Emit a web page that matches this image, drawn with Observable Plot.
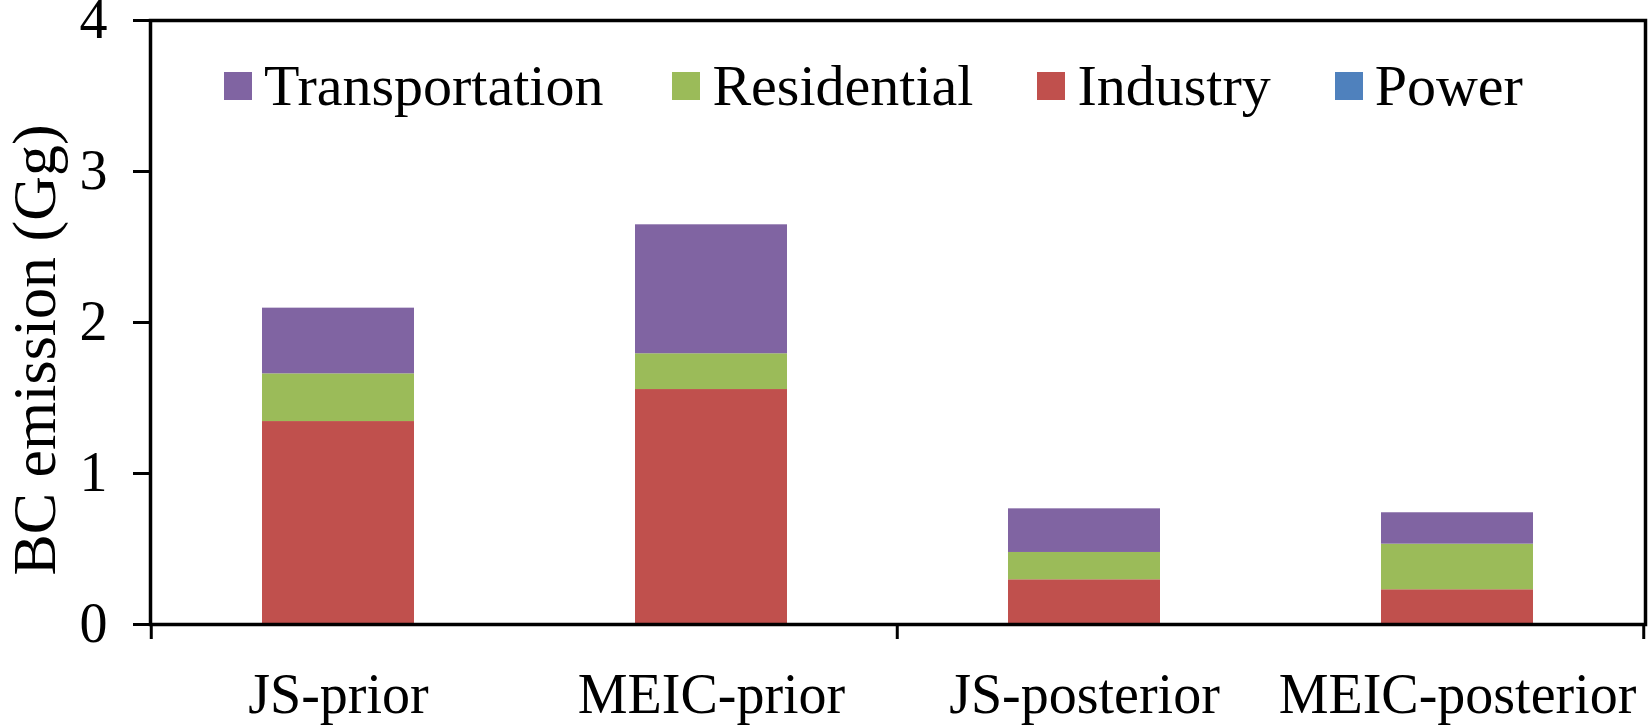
<!DOCTYPE html>
<html><head><meta charset="utf-8">
<script src="https://cdn.jsdelivr.net/npm/d3@7"></script>
<script src="https://cdn.jsdelivr.net/npm/@observablehq/plot@0.6"></script>
<style>
body{margin:0;background:#fff;}
#wrap{position:relative;width:1648px;height:725px;font-family:'Liberation Serif','Times New Roman',serif;}
#wrap svg{overflow:visible;}
#legend{position:absolute;left:224px;top:57px;display:flex;align-items:center;gap:64px;font-size:58px;line-height:1;color:#000;}
.item{display:flex;align-items:center;white-space:nowrap;}
.item:first-child{margin-right:5px;}
.sw{width:28px;height:28px;margin-right:12px;}
#ylabel{position:absolute;left:33.5px;top:350px;transform:translate(-50%,-50%) rotate(-90deg);white-space:nowrap;font-size:62px;line-height:1;color:#000;}
</style></head><body><div id="wrap"></div>
<script>
const categories = ["JS-prior", "MEIC-prior", "JS-posterior", "MEIC-posterior"];
const sectors = ["Transportation", "Residential", "Industry", "Power"];
const colors = ["#8064A2", "#9BBB59", "#C0504D", "#4F81BD"];
const power = [0, 0, 0, 0];
const industry = [1.344, 1.556, 0.296, 0.23];
const residential = [0.316, 0.237, 0.181, 0.302];
const transportation = [0.435, 0.854, 0.289, 0.208];
const yTicks = [0, 1, 2, 3, 4];
const yLabel = "BC emission (Gg)";

const seriesBySector = {Power: power, Industry: industry, Residential: residential, Transportation: transportation};
const stackOrder = ["Power", "Industry", "Residential", "Transportation"];
const rows = [];
for (const s of stackOrder) categories.forEach((c, i) => rows.push({category: c, sector: s, value: seriesBySector[s][i]}));

const pad = 0.593;
const FS = 56;

function boundaryTicks(index, scales, values, dimensions) {
  const x = scales.x;
  const bw = typeof x.bandwidth === "function" ? x.bandwidth() : x.bandwidth;
  const step = bw / (1 - pad);
  const xs = [
    x(categories[0]) + bw / 2 - step / 2,
    x(categories[2]) + bw / 2 - step / 2,
    x(categories[3]) + bw / 2 + step / 2
  ];
  const y0 = dimensions.height - dimensions.marginBottom;
  const g = d3.create("svg:g").attr("stroke", "black").attr("stroke-width", 3);
  for (const xv of xs) g.append("line").attr("x1", xv).attr("x2", xv).attr("y1", y0).attr("y2", y0 + 15);
  return g.node();
}

const chart = Plot.plot({
  width: 1648, height: 725,
  marginTop: 20, marginBottom: 101, marginLeft: 150, marginRight: 3,
  style: {fontFamily: "'Liberation Serif', 'Times New Roman', serif", fontSize: FS + "px", background: "white", color: "black", overflow: "visible"},
  x: {domain: categories, paddingInner: pad, paddingOuter: pad / 2, align: 0.5},
  y: {domain: [0, 4]},
  color: {domain: sectors, range: colors},
  marks: [
    Plot.barY(rows, {x: "category", y: "value", fill: "sector"}),
    Plot.frame({stroke: "black", strokeWidth: 3.5}),
    Plot.axisY({ticks: yTicks, tickSize: 17, tickPadding: 26, strokeWidth: 3, stroke: "black", fontSize: FS,
      label: null, tickFormat: d3.format("d")}),
    Plot.axisX({tickSize: 0, tickPadding: 49, label: null, fontSize: FS}),
    boundaryTicks
  ]
});
const wrap = document.getElementById("wrap");
wrap.appendChild(chart);

const legend = document.createElement("div");
legend.id = "legend";
sectors.forEach((s, i) => {
  const it = document.createElement("div"); it.className = "item";
  const sw = document.createElement("div"); sw.className = "sw"; sw.style.background = colors[i];
  const tx = document.createElement("span"); tx.textContent = s;
  it.appendChild(sw); it.appendChild(tx); legend.appendChild(it);
});
wrap.appendChild(legend);

const yl = document.createElement("div");
yl.id = "ylabel";
yl.textContent = yLabel;
wrap.appendChild(yl);
</script>
</body></html>
